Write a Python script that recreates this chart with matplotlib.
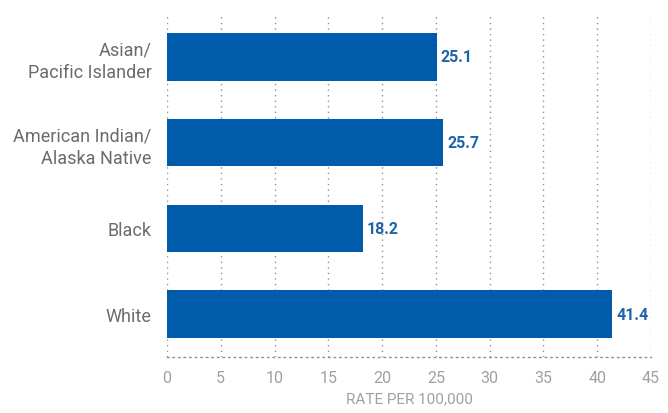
import matplotlib.pyplot as plt
import numpy as np

plt.rcParams['font.family'] = ['Roboto', 'DejaVu Sans']

groups = ['Asian/\nPacific Islander', 'American Indian/\nAlaska Native', 'Black', 'White']
rates = [25.1, 25.7, 18.2, 41.4]
xticks = [0, 5, 10, 15, 20, 25, 30, 35, 40, 45]

bar_color = '#005BAA'

fig = plt.figure(figsize=(6.68, 4.14), dpi=100)
ax = fig.add_axes([0.25, 0.135, 0.7246, 0.829])

y = np.arange(len(groups))
bars = ax.barh(y, rates, height=0.555, color=bar_color, zorder=3)
for b, v in zip(bars, rates):
    ax.text(b.get_width() + 0.35, b.get_y() + b.get_height() / 2, f'{v:.1f}',
            ha='left', va='center', color='#1E64AA', fontsize=11.5, fontweight='bold')

ax.set_ylim(3.5, -0.5)
ax.set_xlim(0, 45)
ax.set_yticks(y)
ax.set_yticklabels(groups, fontsize=13, color='#6b6b6b', linespacing=1.3)
ax.set_xticks(xticks)
ax.set_xticklabels([str(t) for t in xticks], fontsize=11.5, color='#a0a0a0')
ax.tick_params(length=0, pad=9)
ax.tick_params(axis='y', pad=11)

for s in ['top', 'right', 'left']:
    ax.spines[s].set_visible(False)
ax.spines['bottom'].set_linestyle((0, (1, 3)))
ax.spines['bottom'].set_color('#909090')
ax.spines['bottom'].set_linewidth(1)

ax.grid(axis='x', linestyle=(0, (1, 3)), color='#909090', linewidth=1, zorder=0)
ax.set_xlabel('RATE PER 100,000', fontsize=11, color='#a0a0a0', labelpad=5)

plt.savefig('out.png', dpi=100)
